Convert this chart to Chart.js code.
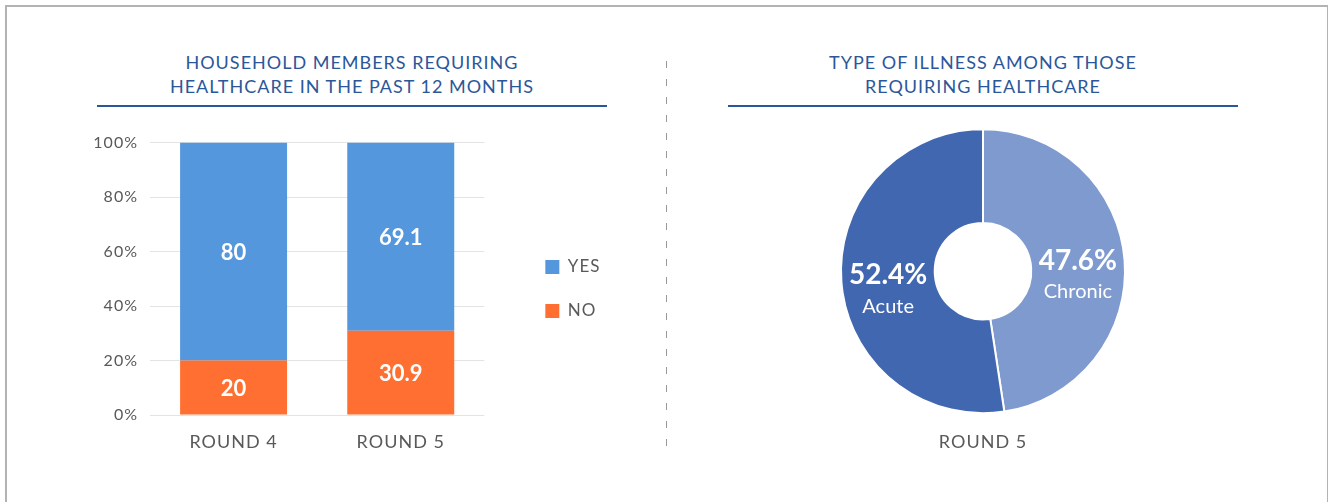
<!DOCTYPE html>
<html>
<head>
<meta charset="utf-8">
<script src="https://cdn.jsdelivr.net/npm/chart.js@4"></script>
<style>
  body { margin: 0; background: #fff; font-family: Lato, "Open Sans", sans-serif; }
  #page { position: relative; width: 1328px; height: 502px; overflow: hidden; }
  .frame { position: absolute; left: 5px; top: 5px; width: 1320px; height: 600px; border: 2px solid #b3b3b3; }
  .title { position: absolute; top: 50px; width: 510px; text-align: center; color: #2b579a;
           font-size: 18px; line-height: 24px; letter-spacing: 1px; padding-bottom: 7px;
           border-bottom: 2px solid #2b579a; }
  .divider { position: absolute; left: 666px; top: 61px; width: 1px; height: 396px;
             background: repeating-linear-gradient(to bottom, #999 0 7px, transparent 7px 18px); }
  canvas { position: absolute; }
</style>
</head>
<body>
<div id="page">
  <div class="frame"></div>
  <div class="title" style="left:97px">HOUSEHOLD MEMBERS REQUIRING<br>HEALTHCARE IN THE PAST 12 MONTHS</div>
  <div class="title" style="left:728px">TYPE OF ILLNESS AMONG THOSE<br>REQUIRING HEALTHCARE</div>
  <div class="divider"></div>
  <canvas id="barChart" style="left:80px; top:121px; width:526px; height:339px"></canvas>
  <canvas id="pieChart" style="left:833px; top:121px; width:300px; height:332px"></canvas>
</div>
<script>
// data
const rounds = ["ROUND 4", "ROUND 5"];
const yesValues = [80, 69.1];
const noValues = [20, 30.9];
const yTicks = [0, 20, 40, 60, 80, 100];

const illnessTypes = ["Chronic", "Acute"];
const illnessShares = [47.6, 52.4];
const illnessRound = "ROUND 5";

const FONT = "Lato, 'Open Sans', sans-serif";
const GREY = "#595959";

// axis / legend text in the original is slightly spaced out
const spacedText = {
    id: "spacedText",
    beforeDraw(chart) { chart.ctx.letterSpacing = "1px"; }
};

// white numbers in the middle of each bar segment
const barValueLabels = {
    id: "barValueLabels",
    afterDatasetsDraw(chart) {
        const ctx = chart.ctx;
        ctx.save();
        ctx.letterSpacing = "0px";
        ctx.fillStyle = "#fff";
        ctx.font = "bold 22px " + FONT;
        ctx.textAlign = "center";
        ctx.textBaseline = "middle";
        chart.data.datasets.forEach((ds, i) => {
            chart.getDatasetMeta(i).data.forEach((bar, j) => {
                ctx.fillText(String(ds.data[j]), bar.x, (bar.y + bar.base) / 2 + 1);
            });
        });
        ctx.restore();
    }
};

// percentage + name inside each slice
const sliceLabels = {
    id: "sliceLabels",
    afterDatasetsDraw(chart) {
        const ctx = chart.ctx;
        const ds = chart.data.datasets[0];
        ctx.save();
        ctx.letterSpacing = "0px";
        ctx.fillStyle = "#fff";
        ctx.textAlign = "center";
        ctx.textBaseline = "middle";
        chart.getDatasetMeta(0).data.forEach((arc, i) => {
            const p = arc.getCenterPoint();
            ctx.font = "bold 28px " + FONT;
            ctx.fillText(ds.data[i].toFixed(1) + "%", p.x, p.y - 3);
            ctx.font = "20px " + FONT;
            ctx.fillText(chart.data.labels[i], p.x, p.y + 28);
        });
        ctx.restore();
    }
};

new Chart(document.getElementById("barChart"), {
    type: "bar",
    data: {
        labels: rounds,
        datasets: [
            { label: "NO", data: noValues, backgroundColor: "#ff6f31" },
            { label: "YES", data: yesValues, backgroundColor: "#5597dd" }
        ]
    },
    options: {
        responsive: false,
        animation: false,
        barPercentage: 0.64,
        categoryPercentage: 1,
        layout: { padding: 0 },
        scales: {
            x: {
                stacked: true,
                grid: { display: false },
                border: { display: false },
                ticks: { color: GREY, font: { family: FONT, size: 18 }, padding: 8 },
                afterFit: s => { s.height = 45; }
            },
            y: {
                stacked: true,
                min: 0,
                max: 100,
                afterBuildTicks: s => { s.ticks = yTicks.map(v => ({ value: v })); },
                grid: { color: "#e4e4e4", drawTicks: false },
                border: { display: false },
                ticks: { color: GREY, font: { family: FONT, size: 16 }, padding: 12, callback: v => v + "%" },
                afterFit: s => { s.width = 70; }
            },
            gap: {
                position: "right",
                grid: { display: false },
                border: { display: false },
                ticks: { display: false },
                afterFit: s => { s.width = 34; }
            }
        },
        plugins: {
            legend: {
                position: "right",
                align: "start",
                reverse: true,
                title: { display: true, text: "", padding: { top: 0, bottom: 96 } },
                labels: {
                    boxWidth: 14,
                    boxHeight: 14,
                    padding: 27,
                    color: GREY,
                    font: { family: FONT, size: 17 }
                }
            },
            tooltip: { enabled: false }
        }
    },
    plugins: [spacedText, barValueLabels]
});

new Chart(document.getElementById("pieChart"), {
    type: "doughnut",
    data: {
        labels: illnessTypes,
        datasets: [{
            data: illnessShares,
            backgroundColor: ["#7f9acf", "#4167b0"],
            borderColor: "#fff",
            borderWidth: 2,
            hoverOffset: 0
        }]
    },
    options: {
        responsive: false,
        animation: false,
        cutout: "34%",
        radius: 142,
        layout: { padding: { top: 8, left: 8, right: 8, bottom: 0 } },
        plugins: {
            legend: { display: false },
            tooltip: { enabled: false },
            title: {
                display: true,
                position: "bottom",
                text: illnessRound,
                color: GREY,
                font: { family: FONT, size: 18, weight: "normal" },
                padding: { top: 18, bottom: 0 }
            }
        }
    },
    plugins: [spacedText, sliceLabels]
});
</script>
</body>
</html>
